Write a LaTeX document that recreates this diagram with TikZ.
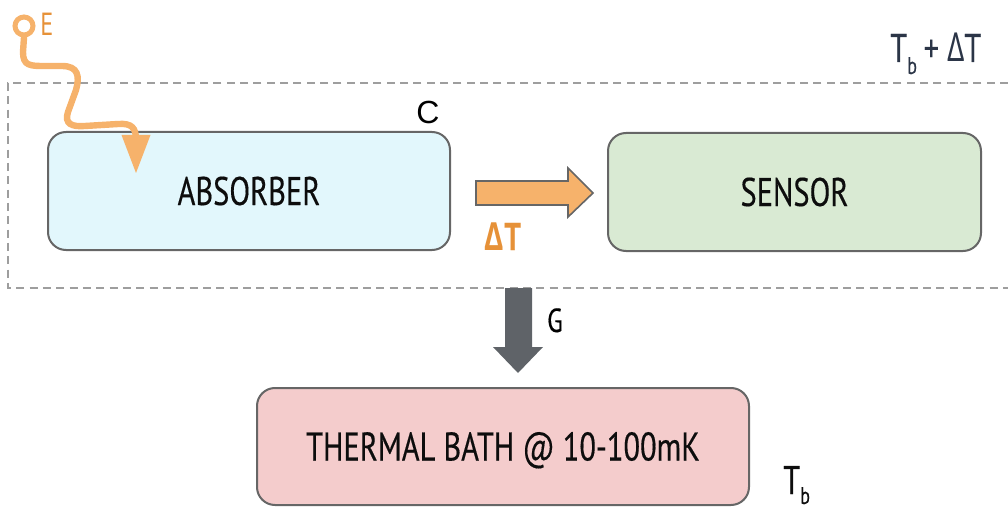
\documentclass[tikz,border=0pt]{standalone}
\usepackage{fontspec}
\setmainfont[FakeStretch=0.76,FakeBold=0.3]{PT Sans}
\newfontfamily\grk[FakeStretch=0.76]{Open Sans}
\newfontfamily\thinfont[FakeStretch=0.76]{PT Sans}
\newfontfamily\arialfont{Liberation Sans}
\usetikzlibrary{arrows.meta}
\definecolor{absfill}{HTML}{E2F7FC}
\definecolor{senfill}{HTML}{D9EAD3}
\definecolor{bathfill}{HTML}{F4CCCC}
\definecolor{boxline}{HTML}{666666}
\definecolor{orng}{HTML}{F6B26B}
\definecolor{orngtxt}{HTML}{E69138}
\definecolor{grayarr}{HTML}{5F6368}
\definecolor{dashgray}{HTML}{9E9E9E}
\definecolor{slate}{HTML}{2B3547}
\newcommand{\mysubb}[1]{\raisebox{-#1}{\fontsize{18}{18}\selectfont b}}
\tikzset{
  blockbox/.style={draw=boxline, line width=1.5pt, rounded corners=13.5pt,
    inner sep=0pt, text height=21pt, text depth=0pt, align=center,
    font=\fontsize{30}{36}\selectfont, text=black!95},
  lbl/.style={inner sep=0pt},
}
\begin{document}
\begin{tikzpicture}[x=0.75pt,y=-0.75pt]
\useasboundingbox (0,0) rectangle (1008,510);
% dashed enclosure
\draw[dashgray, line width=1.3pt, dash pattern=on 6pt off 4pt]
  (1008,83) -- (8,83) -- (8,288) -- (1008,288);
% boxes
\node[blockbox, fill=absfill, minimum width=301.5pt, minimum height=88.5pt] (abs) at (249,191) {ABSORBER};
\node[blockbox, fill=senfill, minimum width=279.75pt, minimum height=88.5pt] (sen) at (794.5,192) {SENSOR};
\node[blockbox, fill=bathfill, minimum width=369pt, minimum height=87.75pt] (bath) at (503,446.5) {THERMAL BATH @ 10-100mK};
% orange heat arrow
\draw[draw=boxline, fill=orng, line width=1.2pt, line join=miter]
  (476,181) -- (568,181) -- (568,168) -- (593,193) -- (568,217) -- (568,205) -- (476,205) -- cycle;
\node[lbl, anchor=base, text=orngtxt, font=\fontsize{29}{34}\selectfont\bfseries] (dT) at (503,250) {{\grk\bfseries Δ}T};
% gray conductance arrow
\fill[grayarr]
  (505,288) -- (532,288) -- (532,347) -- (543,347) -- (518,373) -- (493,347) -- (505,347) -- cycle;
\node[lbl, anchor=base, font=\fontsize{25}{30}\selectfont] (G) at (555,332) {G};
% labels
\node[lbl, anchor=base, font=\arialfont\fontsize{24}{28}\selectfont] (C) at (428,123) {C};
\node[lbl, anchor=base west, text=slate, font=\fontsize{30}{36}\selectfont] (Tbd) at (890,62) {T\mysubb{9pt}\hspace{5pt}+\hspace{6pt}{\grk Δ}T};
\node[lbl, anchor=base west, text=black!95, font=\fontsize{30}{36}\selectfont] (Tb) at (783,494) {T\mysubb{7.5pt}};
% incoming energy
\node[circle, draw=orng, line width=3.75pt, minimum size=13.5pt, inner sep=0pt] (src) at (24,26) {};
\node[lbl, anchor=base west, text=orngtxt, font=\thinfont\fontsize{24}{28}\selectfont] (E) at (40,36) {E};
\coordinate (hit) at (136,173);
\draw[orng, line width=4.8pt, line cap=round, -{Triangle[width=21.75pt,length=28.5pt,line width=0pt]}]
  (src.south) -- (23,52) .. controls (23,66) and (30,66) .. (45,66) -- (62,66)
  .. controls (78,66) and (80,76) .. (76,90) -- (68,112)
  .. controls (64,124) and (72,127) .. (85,126) -- (118,124)
  .. controls (132,123) and (136,128) .. (136,140) -- (hit);
\end{tikzpicture}
\end{document}
